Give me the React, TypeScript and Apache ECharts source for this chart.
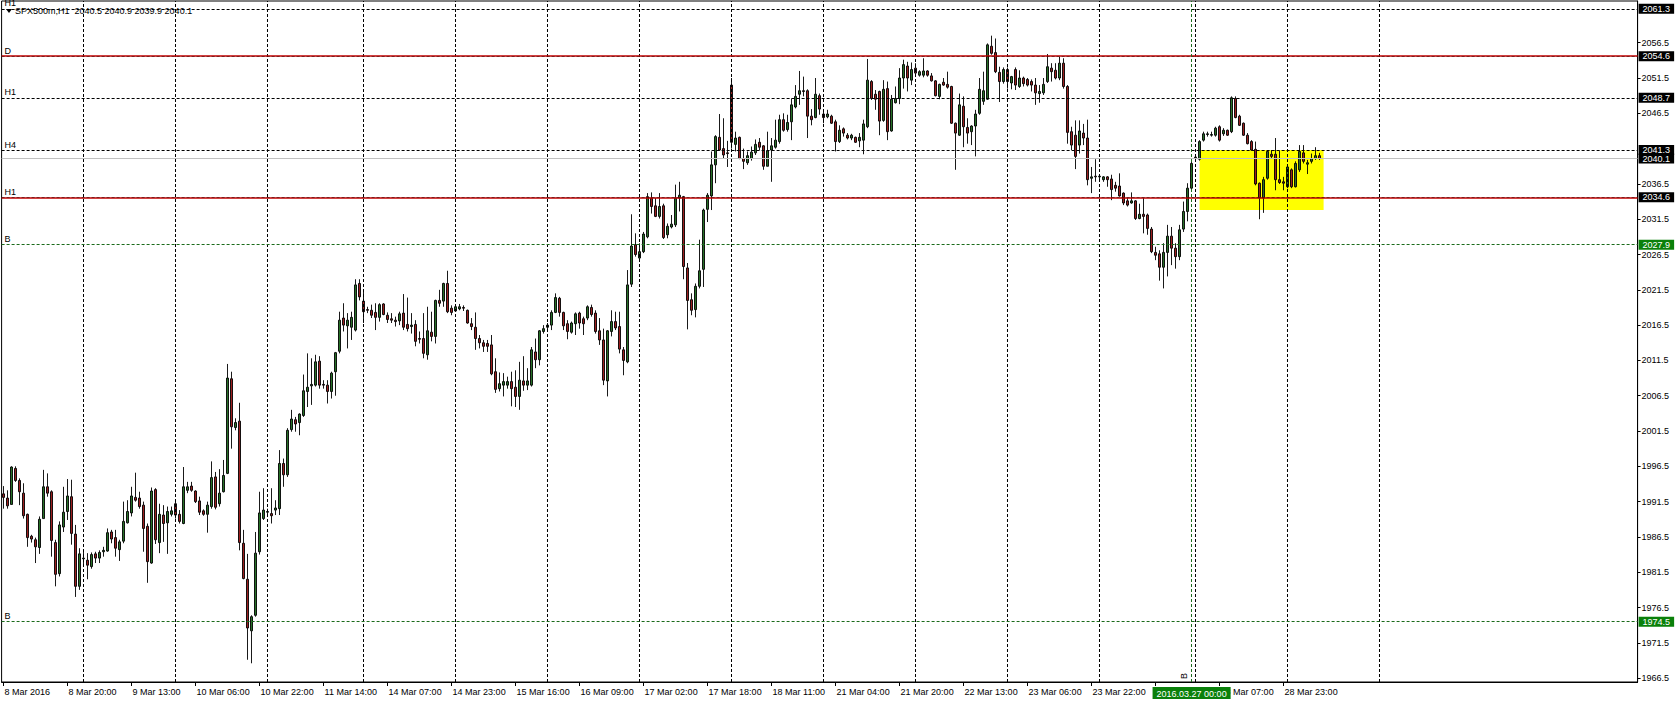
import React, { useEffect, useRef } from 'react';
import * as echarts from 'echarts';

const FONT = '"Liberation Sans", Arial, sans-serif';

// Hourly bars [open, close, low, high], one array per trading session
const session1 = [
  [1992.6, 1992.1, 1990.5, 1993.7], [1992.0, 1990.9, 1990.5, 1993.1], [1991.1, 1996.4, 1991.1, 1996.5], [1996.2, 1994.5, 1994.3, 1996.5],
  [1994.5, 1992.9, 1991.0, 1994.8], [1992.7, 1989.5, 1989.1, 1994.1], [1989.7, 1986.4, 1985.1, 1989.8], [1986.6, 1986.2, 1985.7, 1986.8],
  [1986.1, 1985.1, 1982.8, 1986.4], [1985.0, 1989.0, 1984.1, 1989.4], [1989.1, 1993.6, 1989.1, 1996.0], [1993.6, 1992.7, 1992.2, 1995.5],
  [1992.9, 1986.0, 1983.7, 1993.1], [1985.7, 1981.2, 1979.5, 1986.1], [1981.3, 1988.2, 1980.9, 1988.7], [1987.9, 1990.0, 1987.2, 1993.6],
  [1990.1, 1992.3, 1988.9, 1994.7], [1992.2, 1987.0, 1985.4, 1994.6], [1986.9, 1979.5, 1978.0, 1988.2], [1979.5, 1984.1, 1979.0, 1984.9],
];
const session2 = [
  [1983.4, 1983.5, 1982.3, 1984.4], [1983.2, 1982.5, 1980.5, 1984.2], [1982.3, 1984.0, 1982.0, 1984.3], [1984.1, 1983.5, 1982.8, 1984.4],
  [1983.5, 1984.3, 1982.8, 1984.6], [1984.4, 1984.6, 1983.7, 1985.1], [1984.5, 1987.1, 1984.4, 1987.7], [1987.2, 1986.2, 1985.6, 1987.5],
  [1986.4, 1984.9, 1983.7, 1987.5], [1984.7, 1985.8, 1983.1, 1986.1], [1985.9, 1988.7, 1985.6, 1991.5], [1988.5, 1990.1, 1988.4, 1991.7],
  [1989.9, 1992.3, 1989.4, 1993.6], [1992.1, 1991.7, 1991.5, 1995.6], [1992.0, 1990.8, 1990.5, 1992.9], [1991.0, 1987.7, 1984.4, 1991.5],
  [1988.0, 1983.0, 1980.0, 1988.4], [1982.8, 1993.0, 1982.7, 1993.5], [1993.2, 1986.1, 1985.5, 1993.4], [1985.7, 1989.7, 1984.2, 1991.2],
  [1989.6, 1988.4, 1985.8, 1991.0], [1988.5, 1990.1, 1984.1, 1990.8], [1989.7, 1990.2, 1989.4, 1990.8],
];
const session3 = [
  [1991.2, 1989.6, 1989.1, 1991.7], [1989.7, 1988.7, 1988.4, 1990.3], [1988.4, 1993.6, 1988.3, 1996.4], [1993.1, 1993.6, 1992.7, 1994.3],
  [1993.7, 1993.1, 1992.9, 1994.3], [1993.0, 1991.5, 1991.3, 1993.1], [1991.6, 1990.0, 1989.6, 1992.2], [1990.2, 1989.7, 1989.5, 1990.4],
  [1989.7, 1991.0, 1987.1, 1991.5], [1990.8, 1994.9, 1990.5, 1997.2], [1995.0, 1990.7, 1990.4, 1995.7], [1991.2, 1992.7, 1990.8, 1996.1],
  [1992.9, 1995.2, 1992.8, 1997.4], [1995.5, 2009.0, 1995.4, 2011.0], [2008.9, 2002.1, 1999.0, 2009.9], [2002.0, 2002.7, 2001.6, 2003.3],
  [2002.9, 1985.7, 1984.6, 2005.5], [1985.6, 1980.6, 1980.5, 1987.5], [1980.5, 1973.6, 1969.1, 1984.1], [1973.2, 1975.2, 1968.6, 1975.4],
  [1975.4, 1984.2, 1975.2, 1987.2], [1984.4, 1989.9, 1984.0, 1992.9], [1989.1, 1990.3, 1988.9, 1993.4],
];
const session4 = [
  [1990.0, 1990.1, 1989.6, 1990.5], [1989.8, 1989.5, 1988.4, 1993.4], [1990.3, 1990.6, 1989.6, 1991.7], [1990.5, 1996.9, 1989.6, 1998.8],
  [1996.9, 1995.3, 1993.6, 1997.6], [1995.3, 2001.6, 1995.0, 2001.9], [2001.7, 2003.2, 2001.4, 2004.5], [2003.1, 2002.5, 2001.4, 2003.5],
  [2002.7, 2003.9, 2000.9, 2004.0], [2003.7, 2007.2, 2003.5, 2009.5], [2007.1, 2007.7, 2004.9, 2012.5], [2007.9, 2008.1, 2005.2, 2011.8],
  [2008.0, 2011.3, 2007.8, 2012.3], [2011.4, 2008.0, 2007.5, 2012.1], [2008.1, 2008.0, 2007.5, 2008.7], [2008.0, 2007.1, 2005.4, 2008.7],
  [2007.1, 2009.7, 2006.1, 2009.9], [2009.9, 2012.6, 2006.5, 2012.7], [2012.8, 2017.2, 2012.5, 2018.4], [2017.5, 2016.5, 2015.6, 2019.6],
  [2016.4, 2017.2, 2013.2, 2018.2], [2016.2, 2017.6, 2014.4, 2018.4], [2015.8, 2022.2, 2015.6, 2023.0], [2022.4, 2020.5, 2020.0, 2023.0],
];
const session5 = [
  [2019.9, 2018.4, 2016.8, 2021.5], [2018.7, 2018.6, 2018.2, 2019.1], [2018.6, 2017.9, 2017.5, 2019.4], [2018.3, 2017.6, 2015.8, 2019.6],
  [2017.6, 2019.4, 2017.0, 2019.6], [2019.5, 2018.0, 2017.9, 2019.6], [2017.9, 2017.3, 2016.8, 2018.3], [2017.4, 2017.2, 2016.8, 2018.2],
  [2017.2, 2017.0, 2016.3, 2017.7], [2017.1, 2018.1, 2016.5, 2018.4], [2018.2, 2016.2, 2015.8, 2020.9], [2016.6, 2016.0, 2015.6, 2020.4],
  [2016.3, 2016.5, 2015.3, 2018.2], [2016.6, 2014.2, 2013.5, 2017.2], [2014.6, 2014.5, 2013.9, 2015.6], [2014.6, 2012.5, 2011.8, 2018.2],
  [2012.3, 2015.7, 2011.6, 2019.1], [2015.5, 2014.9, 2014.2, 2018.4], [2014.9, 2020.0, 2013.9, 2020.1], [2020.0, 2019.6, 2019.1, 2021.5],
  [2019.9, 2022.4, 2019.1, 2022.5], [2022.4, 2018.4, 2018.2, 2024.2], [2018.9, 2018.3, 2017.9, 2019.3],
];
const session6 = [
  [2018.5, 2019.1, 2018.4, 2019.2], [2018.8, 2019.1, 2018.6, 2019.5], [2019.0, 2018.9, 2018.5, 2019.3], [2018.6, 2016.8, 2016.7, 2018.7],
  [2016.7, 2016.3, 2015.8, 2017.5], [2016.2, 2014.6, 2013.0, 2018.3], [2014.6, 2014.0, 2013.2, 2015.1], [2014.0, 2013.5, 2012.7, 2014.4],
  [2013.9, 2013.5, 2012.7, 2014.4], [2013.7, 2009.6, 2009.4, 2015.1], [2009.9, 2007.4, 2006.9, 2011.8], [2007.5, 2008.2, 2007.1, 2009.8],
  [2008.0, 2008.5, 2006.4, 2009.7], [2008.0, 2008.5, 2007.5, 2009.2], [2008.5, 2007.5, 2005.0, 2009.9], [2007.7, 2006.4, 2004.9, 2010.1],
  [2006.4, 2008.7, 2004.5, 2011.3], [2008.6, 2008.0, 2007.2, 2012.1], [2008.0, 2008.6, 2007.3, 2010.4], [2008.0, 2013.0, 2007.8, 2013.4],
  [2012.7, 2011.6, 2010.4, 2014.6], [2011.6, 2015.7, 2010.8, 2015.8], [2015.6, 2016.0, 2015.3, 2016.5],
];
const session7 = [
  [2016.2, 2016.5, 2015.8, 2016.8], [2016.5, 2018.3, 2015.8, 2018.6], [2018.3, 2020.4, 2018.2, 2021.0], [2020.3, 2018.3, 2017.7, 2020.5],
  [2018.3, 2016.4, 2015.8, 2018.4], [2016.7, 2015.6, 2014.5, 2017.2], [2015.5, 2016.8, 2015.3, 2017.0], [2016.7, 2018.1, 2015.1, 2018.3],
  [2018.2, 2016.8, 2016.0, 2018.4], [2017.4, 2016.7, 2015.1, 2017.7], [2017.5, 2019.1, 2017.2, 2019.3], [2019.0, 2018.0, 2017.7, 2019.4],
  [2018.2, 2015.6, 2015.3, 2018.6], [2015.7, 2014.4, 2013.7, 2017.5], [2014.4, 2008.7, 2008.0, 2016.0], [2008.6, 2015.7, 2006.4, 2015.8],
  [2015.6, 2017.0, 2014.9, 2018.6], [2017.0, 2016.1, 2015.8, 2018.4], [2016.3, 2013.1, 2012.5, 2018.4], [2013.0, 2011.5, 2009.4, 2013.4],
  [2011.3, 2022.2, 2011.1, 2024.3], [2022.3, 2027.7, 2021.9, 2032.2], [2027.9, 2026.5, 2026.2, 2029.5],
];
const session8 = [
  [2026.0, 2026.9, 2025.5, 2028.1], [2026.9, 2029.4, 2026.7, 2029.7], [2029.0, 2034.7, 2028.8, 2035.2], [2034.5, 2033.3, 2032.3, 2035.3],
  [2033.4, 2031.9, 2031.8, 2034.5], [2031.9, 2033.3, 2031.6, 2035.2], [2033.4, 2028.9, 2028.7, 2033.7], [2029.3, 2030.5, 2028.8, 2030.9],
  [2030.4, 2030.8, 2030.2, 2032.1], [2030.7, 2034.5, 2030.4, 2036.4], [2034.5, 2034.9, 2032.6, 2036.8], [2034.7, 2024.8, 2023.0, 2034.8],
  [2024.6, 2020.0, 2015.9, 2025.3], [2020.1, 2018.6, 2017.9, 2021.0], [2018.7, 2022.0, 2017.6, 2022.4], [2022.0, 2024.2, 2021.7, 2028.6],
  [2024.4, 2032.8, 2021.9, 2033.0], [2032.9, 2034.9, 2031.1, 2035.2], [2034.8, 2039.2, 2032.8, 2041.1], [2039.2, 2043.2, 2036.6, 2043.4],
  [2043.1, 2041.3, 2041.2, 2046.4], [2041.5, 2040.6, 2040.1, 2045.8], [2040.9, 2040.8, 2038.9, 2042.6],
];
const session9 = [
  [2050.5, 2042.4, 2041.5, 2051.5], [2042.1, 2043.0, 2041.1, 2043.9], [2043.1, 2040.1, 2040.0, 2043.2], [2040.1, 2039.7, 2038.6, 2041.5],
  [2039.5, 2040.5, 2039.2, 2041.1], [2040.1, 2041.0, 2039.8, 2041.8], [2040.9, 2042.1, 2040.6, 2042.8], [2042.4, 2041.7, 2041.3, 2043.0],
  [2041.9, 2039.0, 2038.5, 2042.0], [2039.0, 2041.2, 2039.0, 2043.9], [2041.3, 2041.9, 2036.8, 2043.0], [2041.7, 2042.7, 2041.5, 2045.6],
  [2042.5, 2045.6, 2042.2, 2046.3], [2045.6, 2044.1, 2043.9, 2046.5], [2044.2, 2045.2, 2043.9, 2046.3], [2045.3, 2047.7, 2042.7, 2048.6],
  [2047.4, 2048.9, 2047.2, 2050.5], [2049.2, 2049.7, 2047.7, 2052.5], [2049.7, 2049.6, 2048.9, 2051.7], [2049.7, 2046.1, 2043.0, 2049.9],
  [2046.1, 2045.6, 2044.8, 2047.1], [2045.9, 2049.2, 2045.8, 2051.5], [2049.0, 2047.1, 2046.3, 2049.3],
];
const session10 = [
  [2046.4, 2045.9, 2045.1, 2047.0], [2046.0, 2046.4, 2045.8, 2047.0], [2046.1, 2045.1, 2045.0, 2046.3], [2045.3, 2042.5, 2041.1, 2045.6],
  [2042.5, 2044.1, 2042.3, 2044.8], [2044.3, 2043.7, 2043.2, 2044.5], [2043.4, 2043.0, 2042.8, 2043.7], [2043.0, 2043.4, 2042.7, 2043.6],
  [2043.1, 2042.4, 2042.3, 2043.2], [2042.6, 2043.1, 2041.7, 2043.7], [2042.7, 2045.0, 2040.7, 2045.6], [2044.6, 2051.2, 2044.4, 2054.2],
  [2051.0, 2048.6, 2048.4, 2051.2], [2049.2, 2048.5, 2047.0, 2049.8], [2049.6, 2045.4, 2043.4, 2049.7], [2045.5, 2049.9, 2045.3, 2051.2],
  [2050.0, 2043.9, 2042.7, 2051.0], [2044.0, 2048.5, 2043.9, 2049.1], [2048.0, 2048.6, 2047.9, 2050.3], [2048.6, 2051.5, 2047.8, 2052.9],
  [2051.5, 2053.4, 2050.0, 2054.1], [2053.2, 2051.5, 2049.6, 2053.8], [2051.2, 2052.7, 2050.5, 2053.7],
];
const session11 = [
  [2052.9, 2052.2, 2051.9, 2053.6], [2051.9, 2052.4, 2051.7, 2052.6], [2051.9, 2052.5, 2051.6, 2054.3], [2052.5, 2051.9, 2051.7, 2052.6],
  [2051.8, 2051.1, 2051.0, 2052.2], [2051.1, 2049.0, 2048.9, 2051.2], [2048.9, 2050.6, 2048.5, 2050.7], [2050.9, 2050.5, 2050.4, 2051.5],
  [2050.6, 2050.2, 2050.0, 2052.4], [2050.3, 2045.1, 2045.0, 2050.4], [2045.1, 2043.7, 2038.5, 2045.2], [2043.4, 2047.7, 2043.3, 2049.3],
  [2047.5, 2044.6, 2041.7, 2048.9], [2044.5, 2043.7, 2042.2, 2045.8], [2043.9, 2044.7, 2042.0, 2044.8], [2044.7, 2046.4, 2040.4, 2047.0],
  [2046.5, 2049.9, 2046.3, 2051.5], [2048.2, 2049.7, 2047.7, 2052.4], [2048.5, 2056.2, 2048.4, 2056.4], [2056.0, 2055.0, 2054.8, 2057.5],
  [2055.1, 2052.4, 2052.2, 2057.1], [2052.3, 2051.0, 2048.1, 2053.1], [2051.0, 2052.7, 2050.7, 2053.0],
];
const session12 = [
  [2052.7, 2051.0, 2050.0, 2053.0], [2050.8, 2051.7, 2049.9, 2051.8], [2052.7, 2050.5, 2049.8, 2053.0], [2050.3, 2051.5, 2050.1, 2052.6],
  [2051.5, 2050.7, 2050.3, 2051.7], [2051.3, 2050.5, 2050.3, 2051.5], [2051.0, 2050.5, 2049.6, 2051.3], [2050.5, 2049.4, 2047.7, 2051.5],
  [2049.3, 2049.6, 2048.0, 2050.5], [2049.4, 2050.6, 2049.1, 2051.5], [2051.0, 2053.1, 2050.8, 2054.9], [2052.9, 2052.4, 2051.0, 2053.6],
  [2052.6, 2051.5, 2051.3, 2053.6], [2051.5, 2053.6, 2051.2, 2054.5], [2053.6, 2050.3, 2050.0, 2054.3], [2050.3, 2043.8, 2042.2, 2050.5],
  [2043.9, 2042.0, 2041.3, 2044.6], [2043.4, 2040.4, 2038.6, 2045.5], [2042.0, 2044.0, 2040.8, 2045.5], [2043.7, 2043.0, 2042.0, 2045.0],
  [2043.0, 2037.1, 2036.3, 2045.6], [2037.3, 2037.5, 2035.2, 2038.9], [2037.6, 2037.5, 2036.8, 2040.0],
];
const session13 = [
  [2037.5, 2037.6, 2037.1, 2037.8], [2037.1, 2037.5, 2036.8, 2037.6], [2037.5, 2037.1, 2036.1, 2037.6], [2037.2, 2035.7, 2034.2, 2037.8],
  [2036.3, 2035.9, 2035.4, 2036.8], [2036.2, 2034.8, 2034.7, 2038.0], [2035.2, 2033.8, 2033.5, 2035.3], [2034.1, 2033.5, 2033.3, 2034.5],
  [2033.8, 2034.1, 2033.7, 2035.3], [2034.1, 2031.6, 2031.4, 2034.2], [2031.6, 2032.2, 2031.5, 2033.7], [2032.2, 2031.9, 2029.5, 2034.5],
  [2032.1, 2030.2, 2029.3, 2032.3], [2030.1, 2026.9, 2026.7, 2030.4], [2026.8, 2026.4, 2025.7, 2027.6], [2026.6, 2024.7, 2022.8, 2027.1],
  [2024.7, 2026.8, 2021.7, 2028.1], [2026.8, 2029.1, 2023.4, 2030.7], [2029.1, 2027.4, 2025.0, 2030.4], [2027.4, 2026.2, 2024.5, 2028.1],
  [2026.2, 2030.0, 2025.7, 2030.7], [2030.1, 2032.6, 2029.7, 2034.0], [2032.6, 2035.9, 2031.2, 2036.6], [2035.9, 2039.4, 2035.6, 2039.7],
];
const session14 = [
  [2040.2, 2040.3, 2039.9, 2040.6], [2040.0, 2042.5, 2039.8, 2042.7], [2042.7, 2043.6, 2042.5, 2043.9], [2043.5, 2043.6, 2043.2, 2043.9],
  [2043.4, 2043.5, 2043.2, 2043.9], [2043.4, 2044.4, 2043.2, 2044.6], [2044.6, 2042.7, 2042.5, 2044.8], [2043.6, 2044.1, 2043.3, 2044.4],
  [2044.1, 2043.4, 2043.3, 2044.2], [2043.9, 2048.7, 2043.7, 2048.9], [2048.6, 2045.9, 2045.8, 2048.9], [2046.1, 2044.8, 2044.7, 2046.3],
  [2045.1, 2043.4, 2043.3, 2045.2], [2043.4, 2042.2, 2042.1, 2043.7], [2042.5, 2041.3, 2041.2, 2042.7], [2041.4, 2036.5, 2036.3, 2042.5],
  [2036.6, 2034.5, 2031.5, 2036.7], [2034.5, 2037.1, 2032.4, 2037.5], [2037.3, 2041.1, 2037.1, 2041.2], [2040.7, 2040.4, 2040.1, 2041.3],
  [2040.7, 2037.1, 2035.6, 2043.0], [2037.1, 2036.7, 2036.5, 2041.2], [2036.8, 2036.6, 2035.6, 2037.5],
];
const session15 = [
  [2036.1, 2038.9, 2035.9, 2039.0], [2038.5, 2036.1, 2035.9, 2038.7], [2036.1, 2039.4, 2036.0, 2039.7], [2038.5, 2041.1, 2038.2, 2042.0],
  [2040.9, 2039.7, 2039.4, 2042.0], [2039.3, 2039.5, 2037.9, 2039.9], [2039.7, 2040.1, 2039.4, 2040.8], [2040.1, 2040.5, 2039.9, 2041.7],
  [2040.5, 2040.1, 2039.9, 2040.9],
];

const candles = [
  ...session1, ...session2, ...session3, ...session4, ...session5, ...session6, ...session7, ...session8,
  ...session9, ...session10, ...session11, ...session12, ...session13, ...session14, ...session15,
];

// Time axis labels, one every 16 bars
const timeLabels = [
  '8 Mar 2016', '8 Mar 20:00', '9 Mar 13:00', '10 Mar 06:00', '10 Mar 22:00', '11 Mar 14:00', '14 Mar 07:00',
  '14 Mar 23:00', '15 Mar 16:00', '16 Mar 09:00', '17 Mar 02:00', '17 Mar 18:00', '18 Mar 11:00', '21 Mar 04:00',
  '21 Mar 20:00', '22 Mar 13:00', '23 Mar 06:00', '23 Mar 22:00', '', '28 Mar 07:00', '28 Mar 23:00',
];
const LABEL_EVERY = 16;
const SLOT_COUNT = 409; // bars + empty chart shift on the right

// Price scale ticks
const priceTicks = [
  1966.5, 1971.5, 1976.5, 1981.5, 1986.5, 1991.5, 1996.5, 2001.5, 2006.5, 2011.5,
  2016.5, 2021.5, 2026.5, 2031.5, 2036.5, 2046.5, 2051.5, 2056.5,
];
const PRICE_MIN = 1965.95;
const PRICE_MAX = 2062.41;

// Day separator bars (vertical grid)
const dayStartBars = [20, 43, 66, 90, 113, 136, 159, 182, 205, 228, 251, 274, 298, 321, 344];

// Horizontal level objects
const levelPrices = [2061.3, 2054.6, 2048.7, 2041.3, 2040.1, 2034.6, 2027.9, 1974.5];
const levelTags = ['H1', 'D', 'H1', 'H4', '', 'H1', 'B', 'B'];
const levelKinds = ['dash', 'red', 'dash', 'dash', 'bid', 'red', 'green', 'green'];

// Vertical marker
const markerBar = 297;
const markerLabel = '2016.03.27 00:00';
const markerTag = 'B';

// Yellow rectangle
const zoneBars = [299, 330];
const zonePrices = [2041.3, 2032.8];

const symbolName = 'SPX500m,H1';
const HIDDEN = 'rgba(0,0,0,0)';

function lineStyleFor(kind: string) {
  if (kind === 'red') return { color: '#c00000', width: 1.5, type: 'solid' };
  if (kind === 'bid') return { color: '#c0c0c0', width: 1, type: 'solid' };
  if (kind === 'green') return { color: '#1b6b1b', width: 1, type: [3, 2] };
  return { color: '#000000', width: 1, type: [3, 2] };
}

export default function App() {
  const ref = useRef<HTMLDivElement>(null);

  useEffect(() => {
    const chart = echarts.init(ref.current!, null, { renderer: 'svg' });
    const slots = Array.from({ length: SLOT_COUNT }, (_, i) => String(i));
    const showIdx = (i: number) => i % LABEL_EVERY === 0 && i / LABEL_EVERY < timeLabels.length;

    const markLines: any[] = [];
    dayStartBars.forEach((b) => {
      markLines.push({ xAxis: b, lineStyle: { color: '#000', width: 1, type: [3, 2] }, label: { show: false } });
    });
    levelPrices.forEach((p, i) => {
      const kind = levelKinds[i];
      markLines.push({
        yAxis: p,
        lineStyle: lineStyleFor(kind),
        label: {
          show: levelTags[i] !== '',
          position: 'insideStartTop',
          formatter: levelTags[i],
          color: '#000',
          fontFamily: FONT,
          fontSize: 9,
          distance: [3, 1],
        },
      });
      if (kind === 'red') {
        markLines.push({
          yAxis: p,
          lineStyle: { color: '#3a0000', width: 1, type: [3, 2], opacity: 0.55 },
          label: { show: false },
        });
      }
      markLines.push({
        yAxis: p,
        lineStyle: { color: HIDDEN, width: 0 },
        label: {
          show: true,
          position: 'end',
          formatter: p.toFixed(1),
          color: '#fff',
          backgroundColor: kind === 'green' ? '#0a800a' : '#000',
          fontFamily: FONT,
          fontSize: 9,
          lineHeight: 10,
          padding: [0, 4, 0, 4],
          distance: 1,
        },
      });
    });
    markLines.push({
      xAxis: markerBar,
      lineStyle: { color: '#1b6b1b', width: 1, type: [3, 2] },
      label: {
        show: true,
        position: 'start',
        formatter: markerLabel,
        color: '#fff',
        backgroundColor: '#0a800a',
        fontFamily: FONT,
        fontSize: 9,
        lineHeight: 11,
        padding: [1, 4, 0, 4],
        distance: 5,
      },
    });
    markLines.push({
      xAxis: markerBar,
      lineStyle: { color: HIDDEN, width: 0 },
      label: {
        show: true,
        position: 'insideStartTop',
        formatter: markerTag,
        color: '#000',
        fontFamily: FONT,
        fontSize: 9,
        distance: [3, 3],
      },
    });

    const last = candles[candles.length - 1];
    const header = `${symbolName}  ${last[0].toFixed(1)} ${last[3].toFixed(1)} ${last[2].toFixed(1)} ${last[1].toFixed(1)}`;

    const option: any = {
      animation: false,
      backgroundColor: '#ffffff',
      textStyle: { fontFamily: FONT },
      grid: {
        left: 1.6,
        right: 38.4,
        top: 1,
        height: 681,
        show: true,
        borderColor: '#000',
        borderWidth: 1,
        containLabel: false,
        outerBoundsMode: 'none',
      },
      xAxis: {
        type: 'category',
        data: slots,
        boundaryGap: true,
        axisLine: { show: true, lineStyle: { color: '#000', width: 1 } },
        axisTick: { show: true, alignWithLabel: true, interval: showIdx, length: 4, lineStyle: { color: '#000' } },
        axisLabel: {
          show: true,
          interval: showIdx,
          formatter: (_v: string, i: number) => timeLabels[i / LABEL_EVERY] ?? '',
          align: 'left',
          color: '#000',
          fontFamily: FONT,
          fontSize: 9,
          margin: 5,
          padding: [0, 0, 0, 1],
        },
        splitLine: { show: false },
      },
      yAxis: {
        type: 'value',
        position: 'right',
        min: PRICE_MIN,
        max: PRICE_MAX,
        axisLine: { show: true, lineStyle: { color: '#000', width: 1 } },
        axisTick: { show: true, length: 3, customValues: priceTicks, lineStyle: { color: '#000' } },
        axisLabel: {
          show: true,
          customValues: priceTicks,
          formatter: (v: number) => v.toFixed(1),
          color: '#000',
          fontFamily: FONT,
          fontSize: 9,
          margin: 4,
        },
        splitLine: { show: false },
      },
      graphic: [
        {
          type: 'polygon',
          shape: { points: [[6, 9], [12, 9], [9, 13]] },
          style: { fill: '#000' },
        },
        {
          type: 'text',
          left: 15,
          top: 6,
          style: { text: header, font: `9px ${FONT}`, fill: '#000' },
        },
      ],
      series: [
        {
          type: 'line',
          data: [],
          z: 1,
          silent: true,
          markArea: {
            silent: true,
            itemStyle: { color: '#ffff00' },
            data: [[{ xAxis: zoneBars[0], yAxis: zonePrices[0] }, { xAxis: zoneBars[1], yAxis: zonePrices[1] }]],
          },
        },
        {
          type: 'candlestick',
          data: candles,
          z: 3,
          silent: true,
          barWidth: 2.6,
          itemStyle: {
            color: '#277027',
            color0: '#9c1f1f',
            borderColor: '#000',
            borderColor0: '#000',
            borderWidth: 0.9,
          },
          markLine: {
            silent: true,
            symbol: ['none', 'none'],
            precision: 1,
            data: markLines,
          },
        },
      ],
    };

    chart.setOption(option);
    return () => chart.dispose();
  }, []);

  return (
    <div
      ref={ref}
      style={{ position: 'fixed', left: 0, top: 0, width: 1676, height: 702, background: '#fff' }}
    />
  );
}
